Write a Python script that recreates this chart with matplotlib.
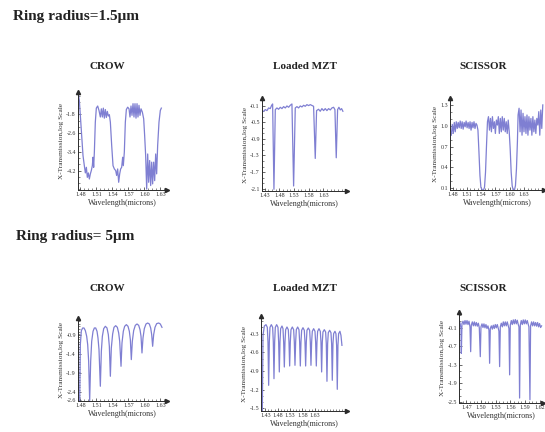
import matplotlib
matplotlib.use("Agg")
import matplotlib.pyplot as plt
from matplotlib.ticker import FixedLocator, FixedFormatter, AutoMinorLocator

plt.rcParams['font.family'] = ['Liberation Serif', 'DejaVu Serif']

# ---------------- data (wavelength in microns, transmission log scale) -------------
crow15 = [(1.4763, -0.91), (1.4781, -1.20), (1.480, -1.84), (1.4825, -2.70), (1.485, -3.56),
          (1.4875, -3.99), (1.4894, -4.30), (1.4913, -4.06), (1.4931, -4.49), (1.495, -4.30),
          (1.4969, -4.56), (1.4988, -4.34), (1.5006, -4.20), (1.5025, -3.99), (1.5038, -3.63),
          (1.505, -4.06), (1.5063, -3.41), (1.5081, -2.13), (1.510, -1.53), (1.5125, -1.44),
          (1.515, -1.63), (1.5175, -1.91), (1.5194, -1.56), (1.5213, -1.91), (1.5231, -1.53),
          (1.525, -1.96), (1.5269, -1.59), (1.5288, -1.93), (1.5306, -1.67), (1.5325, -1.87),
          (1.5344, -1.81), (1.5363, -2.13), (1.5388, -3.13), (1.5413, -3.99), (1.5438, -4.13),
          (1.5463, -4.20), (1.5481, -4.41), (1.55, -4.13), (1.5519, -4.70), (1.5538, -4.34),
          (1.5556, -4.13), (1.5575, -4.06), (1.5594, -3.63), (1.5606, -3.99), (1.5625, -3.41),
          (1.5644, -2.13), (1.5663, -1.59), (1.5688, -1.49), (1.5713, -1.56), (1.5731, -1.91),
          (1.575, -1.44), (1.5769, -1.84), (1.5788, -1.34), (1.5806, -1.91), (1.5825, -1.34),
          (1.5844, -1.96), (1.5863, -1.34), (1.5881, -1.91), (1.59, -1.41), (1.5919, -1.84),
          (1.5938, -1.56), (1.5963, -1.70), (1.5988, -1.99), (1.6006, -2.70), (1.6025, -3.56),
          (1.6044, -4.99), (1.6063, -3.49), (1.6081, -4.70), (1.61, -3.77), (1.6119, -4.84),
          (1.6138, -3.84), (1.6156, -4.77), (1.6175, -3.84), (1.6194, -4.63), (1.6213, -3.49),
          (1.6231, -4.34), (1.625, -3.13), (1.6275, -2.13), (1.63, -1.63), (1.6319, -1.53)]

mzt15 = [(1.4266, -0.236), (1.4323, -0.196), (1.438, -0.22), (1.4436, -0.156), (1.4493, -0.172),
         (1.4539, -0.092), (1.4573, -0.06), (1.4618, -2.116), (1.4664, -0.196), (1.472, -0.156),
         (1.4777, -0.188), (1.4834, -0.14), (1.4891, -0.172), (1.4948, -0.124), (1.5005, -0.156),
         (1.5061, -0.108), (1.5118, -0.14), (1.5175, -0.092), (1.5232, -0.06), (1.5289, -2.036),
         (1.5345, -0.156), (1.5402, -0.124), (1.5459, -0.156), (1.5516, -0.108), (1.5573, -0.132),
         (1.563, -0.092), (1.5686, -0.116), (1.5743, -0.076), (1.58, -0.1), (1.5857, -0.076),
         (1.597, -0.116), (1.6027, -1.372), (1.6072, -0.22), (1.614, -0.188), (1.6197, -0.236),
         (1.6254, -0.172), (1.6311, -0.22), (1.6368, -0.172), (1.6425, -0.22), (1.6482, -0.172),
         (1.6539, -0.204), (1.6595, -0.156), (1.6652, -0.14), (1.6698, -0.196), (1.6743, -1.356),
         (1.6789, -0.196), (1.6834, -0.14), (1.688, -0.204), (1.6925, -0.172), (1.697, -0.236)]

scissor15 = [(1.4772, 0.864), (1.4793, 1.019), (1.4814, 0.889), (1.4835, 1.048), (1.4855, 0.913),
             (1.4876, 1.058), (1.4897, 0.961), (1.4917, 1.048), (1.4938, 0.971), (1.4959, 1.068),
             (1.498, 0.961), (1.500, 1.058), (1.5021, 0.951), (1.5042, 1.048), (1.5063, 0.985),
             (1.5083, 1.068), (1.5104, 0.971), (1.5125, 1.048), (1.5146, 0.961), (1.5166, 1.058),
             (1.5187, 0.937), (1.5208, 1.048), (1.5228, 0.971), (1.5249, 1.058), (1.527, 0.961),
             (1.5291, 1.034), (1.5311, 1.010), (1.5332, 0.937), (1.5353, 0.622), (1.5374, 0.284),
             (1.5394, 0.114), (1.5422, 0.076), (1.545, 0.076), (1.547, 0.114), (1.5491, 0.332),
             (1.5512, 0.719), (1.5532, 1.058), (1.5553, 1.131), (1.5574, 0.937), (1.5595, 1.106),
             (1.5615, 0.913), (1.5636, 1.131), (1.5657, 0.961), (1.5678, 1.058), (1.5698, 0.889),
             (1.5719, 1.082), (1.574, 1.010), (1.576, 1.131), (1.5781, 0.889), (1.5802, 1.106),
             (1.5823, 0.913), (1.5843, 1.131), (1.5864, 0.937), (1.5885, 1.106), (1.5906, 0.913),
             (1.5926, 1.058), (1.5947, 0.889), (1.5968, 1.082), (1.5989, 0.913), (1.6009, 0.671),
             (1.603, 0.332), (1.6051, 0.138), (1.6071, 0.076), (1.6099, 0.076), (1.612, 0.138),
             (1.6141, 0.380), (1.6161, 0.768), (1.6175, 1.155), (1.6196, 1.252), (1.6217, 0.913),
             (1.6237, 1.227), (1.6258, 0.864), (1.6279, 1.179), (1.6299, 0.913), (1.632, 1.131),
             (1.6341, 0.889), (1.6362, 1.155), (1.6382, 0.864), (1.6403, 1.131), (1.6424, 0.937),
             (1.6445, 1.106), (1.6465, 0.864), (1.6486, 1.131), (1.6507, 0.913), (1.6528, 1.082),
             (1.6548, 0.889), (1.6569, 1.106), (1.659, 1.010), (1.661, 1.203), (1.6631, 0.864),
             (1.6652, 1.227), (1.6673, 0.961), (1.6694, 1.300)]

crow5 = [(1.4788, -2.619), (1.480, -1.146), (1.4819, -0.777), (1.4844, -0.707), (1.4869, -0.707),
         (1.4894, -0.777), (1.4919, -0.926), (1.4938, -1.146), (1.4956, -1.584), (1.4975, -2.619),
         (1.4994, -1.584), (1.5013, -1.058), (1.5038, -0.795), (1.5063, -0.707), (1.5088, -0.707),
         (1.5113, -0.795), (1.5131, -0.970), (1.515, -1.277), (1.5175, -2.242), (1.5194, -1.321),
         (1.5213, -0.926), (1.5238, -0.725), (1.5269, -0.663), (1.530, -0.707), (1.5325, -0.882),
         (1.5344, -1.189), (1.5363, -1.979), (1.5381, -1.233), (1.5406, -0.865), (1.5431, -0.690),
         (1.5463, -0.646), (1.5494, -0.690), (1.5519, -0.839), (1.5538, -1.058), (1.5563, -1.716),
         (1.5581, -1.102), (1.5606, -0.795), (1.5631, -0.663), (1.5663, -0.619), (1.5694, -0.663),
         (1.5719, -0.795), (1.5738, -1.014), (1.5756, -1.540), (1.5775, -1.058), (1.58, -0.777),
         (1.5831, -0.637), (1.5863, -0.602), (1.5894, -0.637), (1.5919, -0.751), (1.5938, -0.926),
         (1.5956, -1.365), (1.5975, -0.970), (1.60, -0.725), (1.6031, -0.602), (1.6063, -0.576),
         (1.6094, -0.602), (1.6119, -0.707), (1.6138, -0.882), (1.6156, -1.189), (1.6175, -0.882),
         (1.62, -0.690), (1.6231, -0.593), (1.6269, -0.576), (1.63, -0.602), (1.6331, -0.690)]

mzt5 = [(1.4179, -1.533), (1.4206, -0.327), (1.426, -0.177), (1.4327, -0.155), (1.4381, -0.198),
        (1.4408, -0.434), (1.4435, -1.131), (1.4462, -0.434), (1.4489, -0.198), (1.4543, -0.155),
        (1.4597, -0.198), (1.4624, -0.434), (1.4651, -1.024), (1.4678, -0.434), (1.4705, -0.198),
        (1.4759, -0.155), (1.4813, -0.198), (1.484, -0.434), (1.4867, -0.916), (1.4894, -0.434),
        (1.4921, -0.22), (1.4975, -0.177), (1.5016, -0.22), (1.5043, -0.434), (1.507, -0.836),
        (1.5097, -0.434), (1.5124, -0.236), (1.5178, -0.193), (1.5232, -0.236), (1.5259, -0.434),
        (1.5286, -0.82), (1.5313, -0.434), (1.534, -0.236), (1.5394, -0.193), (1.5448, -0.236),
        (1.5475, -0.434), (1.5502, -0.809), (1.5529, -0.434), (1.5556, -0.236), (1.561, -0.193),
        (1.5664, -0.236), (1.5691, -0.434), (1.5718, -0.82), (1.5745, -0.434), (1.5772, -0.246),
        (1.5826, -0.204), (1.588, -0.246), (1.5907, -0.434), (1.5934, -0.82), (1.5961, -0.434),
        (1.5988, -0.246), (1.6042, -0.209), (1.6096, -0.246), (1.6123, -0.434), (1.615, -0.809),
        (1.6177, -0.434), (1.6204, -0.262), (1.6258, -0.22), (1.6312, -0.262), (1.6339, -0.434),
        (1.6366, -0.82), (1.6393, -0.434), (1.642, -0.262), (1.6474, -0.22), (1.6528, -0.262),
        (1.6555, -0.434), (1.6582, -0.916), (1.6609, -0.434), (1.6636, -0.273), (1.669, -0.236),
        (1.6744, -0.273), (1.6771, -0.461), (1.6798, -1.066), (1.6825, -0.461), (1.6852, -0.284),
        (1.6906, -0.246), (1.696, -0.284), (1.6987, -0.461), (1.7014, -1.05), (1.7041, -0.461),
        (1.7068, -0.3), (1.7122, -0.262), (1.7162, -0.3), (1.7189, -0.488), (1.7216, -1.195),
        (1.7243, -0.488), (1.727, -0.3), (1.7324, -0.262), (1.7365, -0.327), (1.7405, -0.488)]

scissor5 = [(1.4564, 0.082), (1.4577, -0.004), (1.4591, -0.132), (1.4598, -0.935), (1.4611, 0.028),
            (1.4632, 0.103), (1.4652, -0.004), (1.4673, 0.125), (1.4693, 0.007), (1.4714, 0.125),
            (1.4734, -0.004), (1.4755, 0.103), (1.4775, -0.079), (1.4789, -0.881), (1.4802, -0.025),
            (1.4823, 0.082), (1.4843, -0.047), (1.4864, 0.082), (1.4884, -0.047), (1.4905, 0.061),
            (1.4925, -0.057), (1.4946, 0.039), (1.4966, -0.111), (1.4986, -1.042), (1.5, -0.079),
            (1.5021, 0.018), (1.5041, -0.1), (1.5061, 0.018), (1.5082, -0.111), (1.5102, -0.004),
            (1.5123, -0.132), (1.5143, -0.047), (1.5164, -0.186), (1.5177, -1.256), (1.5191, -0.132),
            (1.5212, -0.047), (1.5232, -0.154), (1.5252, -0.025), (1.5273, -0.132), (1.5293, -0.004),
            (1.5314, -0.111), (1.5334, -0.004), (1.5355, -0.132), (1.5368, -0.218), (1.5382, -1.363),
            (1.5396, -0.079), (1.5416, 0.039), (1.5437, -0.079), (1.5457, 0.082), (1.5477, -0.047),
            (1.5498, 0.082), (1.5518, -0.047), (1.5539, 0.082), (1.5559, -0.047), (1.5573, -0.132),
            (1.5587, -1.63), (1.56, -0.025), (1.5621, 0.125), (1.5641, -0.004), (1.5662, 0.146),
            (1.5682, 0.018), (1.5703, 0.157), (1.5723, 0.018), (1.5743, 0.135), (1.5764, -0.004),
            (1.5778, -0.079), (1.5791, -2.379), (1.5805, -0.025), (1.5825, 0.125), (1.5846, -0.004),
            (1.5866, 0.146), (1.5887, 0.018), (1.5907, 0.146), (1.5928, 0.018), (1.5948, 0.125),
            (1.5969, -0.004), (1.5982, -0.079), (1.6003, -2.433), (1.6016, -0.047), (1.6037, 0.082),
            (1.6057, -0.047), (1.6078, 0.082), (1.6098, -0.047), (1.6119, 0.061), (1.6139, -0.057),
            (1.616, 0.061), (1.618, -0.079), (1.62, 0.028), (1.6221, -0.1), (1.6241, -0.047)]

crow15_xticks = [1.48, 1.51, 1.54, 1.57, 1.60, 1.63]
crow15_yticks = [-1.8, -2.6, -3.4, -4.2]
mzt15_xticks = [1.43, 1.48, 1.53, 1.58, 1.63]
mzt15_yticks = [-0.1, -0.5, -0.9, -1.3, -1.7, -2.1]
scissor15_xticks = [1.48, 1.51, 1.54, 1.57, 1.60, 1.63]
scissor15_yticks = [0.1, 0.4, 0.7, 1.0, 1.3]
crow5_xticks = [1.48, 1.51, 1.54, 1.57, 1.60, 1.63]
crow5_yticks = [-0.9, -1.4, -1.9, -2.4, -2.6]
mzt5_xticks = [1.43, 1.48, 1.53, 1.58, 1.63]
mzt5_yticks = [-0.3, -0.6, -0.9, -1.2, -1.5]
scissor5_xticks = [1.47, 1.50, 1.53, 1.56, 1.59, 1.62]
scissor5_yticks = [-0.1, -0.7, -1.3, -1.9, -2.5]

titles = ["CROW", "Loaded MZT", "SCISSOR"]
row_titles = ["Ring radius=1.5\u03bcm", "Ring radius= 5\u03bcm"]

# ---------------- layout -------------
LINE = '#7f7fd2'
AXC = '#2b2b2b'

panels = [
    (crow15, crow15_xticks, crow15_yticks, [0.1431, 0.5602, 0.1633, 0.2269], (1.4756, 1.6425), (-5.03, -0.84)),
    (mzt15, mzt15_xticks, mzt15_yticks, [0.4807, 0.5579, 0.1560, 0.2153], (1.421, 1.711), (-2.156, 0.084)),
    (scissor15, scissor15_xticks, scissor15_yticks, [0.8257, 0.5602, 0.1725, 0.2130], (1.4745, 1.672), (0.075, 1.40)),
    (crow5, crow5_xticks, crow5_yticks, [0.1431, 0.0718, 0.1633, 0.1921], (1.4756, 1.6425), (-2.63, -0.444)),
    (mzt5, mzt5_xticks, mzt5_yticks, [0.4789, 0.0486, 0.1578, 0.2199], (1.4125, 1.761), (-1.544, -0.016)),
    (scissor5, scissor5_xticks, scissor5_yticks, [0.8422, 0.0671, 0.1541, 0.2106], (1.455, 1.627), (-2.54, 0.40)),
]

fig = plt.figure(figsize=(5.45, 4.32), dpi=100)

for data, xt, yt, pos, xl, yl in panels:
    ax = fig.add_axes(pos)
    xs = [p[0] for p in data]
    ys = [p[1] for p in data]
    ax.plot(xs, ys, color=LINE, lw=0.9, solid_joinstyle='round')
    ax.set_xlim(*xl)
    ax.set_ylim(*yl)
    for s in ('top', 'right'):
        ax.spines[s].set_visible(False)
    for s in ('left', 'bottom'):
        ax.spines[s].set_color(AXC)
        ax.spines[s].set_linewidth(0.7)
    ax.xaxis.set_major_locator(FixedLocator(xt))
    ax.xaxis.set_major_formatter(FixedFormatter(['%.2f' % v for v in xt]))
    ax.yaxis.set_major_locator(FixedLocator(yt))
    ax.yaxis.set_major_formatter(FixedFormatter(['%.1f' % v for v in yt]))
    ax.xaxis.set_minor_locator(AutoMinorLocator(4))
    ax.yaxis.set_minor_locator(AutoMinorLocator(3))
    ax.tick_params(which='major', direction='in', length=2.5, width=0.5, color=AXC,
                   labelsize=4.3, pad=1.5, labelcolor='#333333')
    ax.tick_params(which='minor', direction='in', length=1.3, width=0.4, color=AXC)
    ax.set_xlabel('Wavelength(microns)', fontsize=5.8, labelpad=1.5, color='#333333')
    ax.set_ylabel('X-Transmission,log Scale', fontsize=5.2, labelpad=1.5, color='#333333')
    ax.plot([1], [0], marker='>', ms=3, color=AXC, transform=ax.transAxes, clip_on=False)
    ax.plot([0], [1], marker='^', ms=3, color=AXC, transform=ax.transAxes, clip_on=False)

fig.text(0.024, 0.961, row_titles[0], fontsize=11, fontweight='bold', ha='left', va='center', color='#222222')
fig.text(0.029, 0.4514, row_titles[1], fontsize=11, fontweight='bold', ha='left', va='center', color='#222222')
for xc, t in zip([0.196, 0.56, 0.886], titles):
    fig.text(xc, 0.845, t, fontsize=8, fontweight='bold', ha='center', va='center', color='#222222')
    fig.text(xc, 0.3333, t, fontsize=8, fontweight='bold', ha='center', va='center', color='#222222')

fig.savefig('out.png', dpi=100)
